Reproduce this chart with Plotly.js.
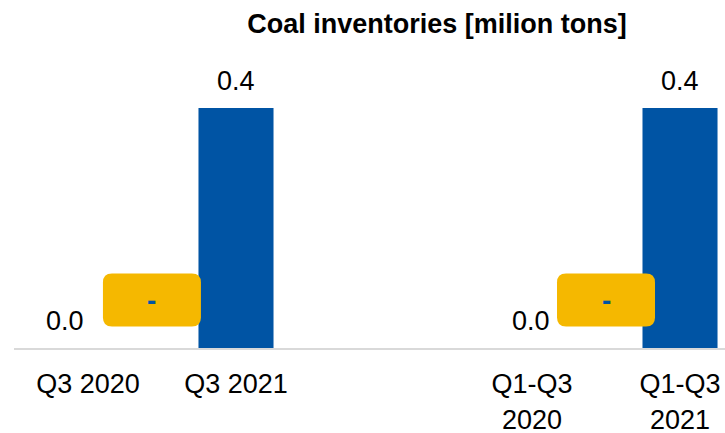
<!DOCTYPE html>
<html>
<head>
<meta charset="utf-8">
<script src="https://cdn.plot.ly/plotly-3.0.1.min.js"></script>
<style>html,body{margin:0;padding:0;background:#fff}#chart{width:725px;height:433px}</style>
</head>
<body>
<div id="chart"></div>
<script>
// ---- data ----
var categories = ["Q3 2020", "Q3 2021", " ", "Q1-Q3<br>2020", "Q1-Q3<br>2021"];
var inventories = [0.0, 0.4, null, 0.0, 0.4];
var changeLabels = ["-", "-"];
var changePositions = [0.432, 3.5]; // between the paired categories
var titleText = "Coal inventories [milion tons]";

// ---- style ----
var BLUE = "#0054A4", YELLOW = "#F5B800", FONT = "Liberation Sans, Arial, sans-serif";
var labelShift = [-23, 0, 0, -1, 0];

var trace = {
  type: "bar",
  x: categories,
  y: inventories,
  marker: {color: BLUE},
  width: 0.507,
  hoverinfo: "skip"
};

var annotations = [];
categories.forEach(function (c, i) {
  if (inventories[i] === null) return;
  annotations.push({
    x: c, y: inventories[i], xref: "x", yref: "y",
    text: inventories[i].toFixed(1),
    showarrow: false, yanchor: "bottom", yshift: 10, xshift: labelShift[i],
    font: {family: FONT, size: 27, color: "#000"}
  });
});

var shapes = [];
var boxY = 0.08;
changeLabels.forEach(function (t, k) {
  shapes.push({
    type: "path", layer: "above",
    xref: "x", yref: "y",
    xsizemode: "pixel", ysizemode: "pixel",
    xanchor: changePositions[k], yanchor: boxY,
    path: "M -40,-26.5 L 40,-26.5 Q 49,-26.5 49,-17.5 L 49,17.5 Q 49,26.5 40,26.5 L -40,26.5 Q -49,26.5 -49,17.5 L -49,-17.5 Q -49,-26.5 -40,-26.5 Z",
    fillcolor: YELLOW, line: {width: 0}
  });
  annotations.push({
    x: changePositions[k], y: boxY, xref: "x", yref: "y",
    text: "<b>" + t + "</b>", showarrow: false,
    xanchor: "center", yanchor: "middle",
    font: {family: FONT, size: 28, color: BLUE}
  });
});

var layout = {
  width: 725, height: 433,
  margin: {l: 14, r: 0, t: 60, b: 85},
  paper_bgcolor: "#fff", plot_bgcolor: "#fff",
  showlegend: false,
  title: {
    text: "<b>" + titleText + "</b>",
    x: 437 / 725, xanchor: "center", xref: "container",
    y: 1 - 24 / 433, yanchor: "middle", yref: "container",
    font: {family: FONT, size: 27, color: "#000"}
  },
  font: {family: FONT, size: 27, color: "#000"},
  xaxis: {
    type: "category",
    range: [-0.5, 4.304],
    showline: true, linecolor: "#D9D9D9", linewidth: 2,
    showgrid: false, zeroline: false, ticks: "",
    ticklabelstandoff: 11,
    tickfont: {family: FONT, size: 27, color: "#000"},
    fixedrange: true
  },
  yaxis: {
    range: [0, 0.48],
    visible: false, showgrid: false, zeroline: false, fixedrange: true
  },
  shapes: shapes,
  annotations: annotations
};

Plotly.newPlot("chart", [trace], layout, {displayModeBar: false, staticPlot: true});
</script>
</body>
</html>
